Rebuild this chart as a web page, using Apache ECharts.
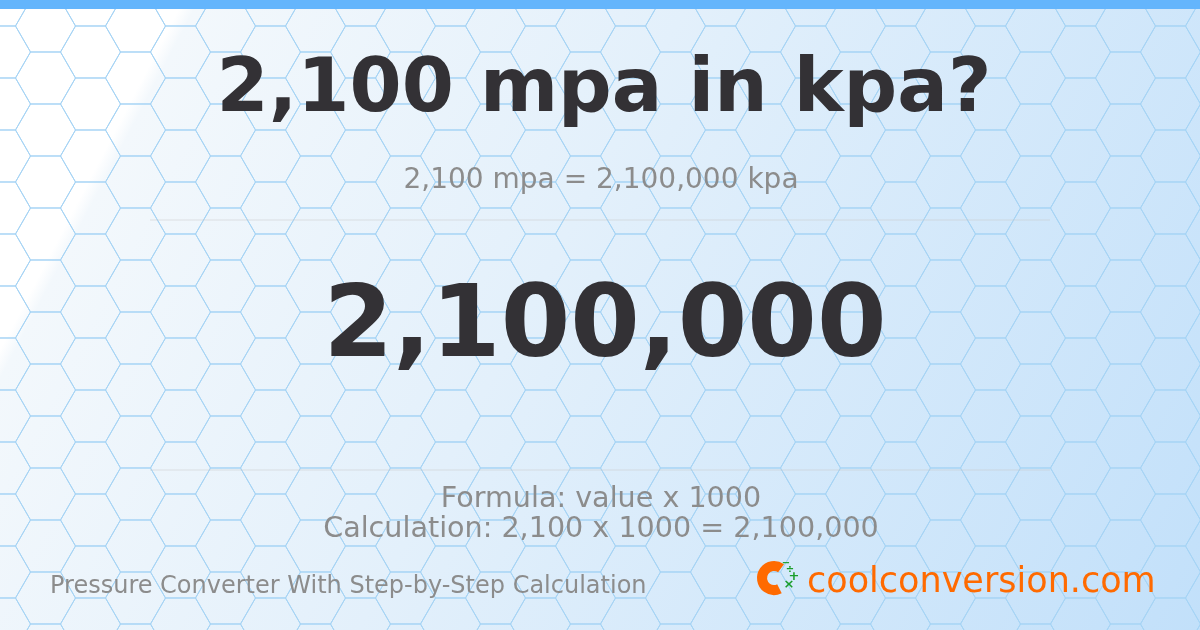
<!DOCTYPE html>
<html><head><meta charset="utf-8">
<script src="https://cdn.jsdelivr.net/npm/echarts@6/dist/echarts.min.js"></script>
<style>html,body{margin:0;padding:0}#c{width:1200px;height:630px}</style>
</head><body><div id="c"></div>
<script>
const title = "2,100 mpa in kpa?";
const subtitle = "2,100 mpa = 2,100,000 kpa";
const result = "2,100,000";
const formulaLines = ["Formula: value x 1000", "Calculation: 2,100 x 1000 = 2,100,000"];
const footer = "Pressure Converter With Step-by-Step Calculation";
const brand = "coolconversion.com";

const chart = echarts.init(document.getElementById('c'), null, {renderer:'canvas'});
const F = "DejaVu Sans";
const els = [];
els.push({type:'rect', shape:{x:0,y:0,width:1200,height:630}, style:{fill:new echarts.graphic.LinearGradient(0,0,1,1,[{offset:0,color:'#ffffff'},{offset:0.12,color:'#ffffff'},{offset:0.13,color:'#f3f8fc'},{offset:0.45,color:'#e3f0fb'},{offset:1,color:'#c2e0fa'}])}, silent:true});
const s = 30, h = s*Math.sqrt(3)/2;
for (let k=0;k<=27;k++){
  const cx = 0.5 + 45*k;
  for (let j=-1;j<=13;j++){
    const cy = (k%2 ? 26 : 0) + 52*j;
    els.push({type:'polygon', silent:true, shape:{points:[[cx-s,cy],[cx-s/2,cy-h],[cx+s/2,cy-h],[cx+s,cy],[cx+s/2,cy+h],[cx-s/2,cy+h]]}, style:{fill:null, stroke:'#a6d4f5', lineWidth:1}});
  }
}
els.push({type:'rect', shape:{x:0,y:0,width:1200,height:9}, style:{fill:'#64b5fc'}});
els.push({type:'line', shape:{x1:150,y1:220,x2:1050,y2:220}, style:{stroke:'rgba(200,200,200,0.5)',lineWidth:1}});
els.push({type:'line', shape:{x1:150,y1:470,x2:1050,y2:470}, style:{stroke:'rgba(200,200,200,0.5)',lineWidth:1}});
const T = (text,x,y,size,color,weight,align)=>els.push({type:'text', x, y, style:{text, fontFamily:F, fontSize:size, fill:color, fontWeight:weight||'normal', align:align||'center', verticalAlign:'middle'}});
T(title,604,92,75,'#333135','bold');
T(subtitle,601,181,28,'#8c8c8c');
T(result,605,330,100,'#333135','bold');
T(formulaLines[0],601,500,28.6,'#8c8c8c');
T(formulaLines[1],601,530,28.6,'#8c8c8c');
T(footer,50,587,24,'#8c8c8c','normal','left');
T(brand,807,583,35,'#ff6a00','normal','left');
// logo
els.push({type:'arc', shape:{cx:774,cy:578,r:12,startAngle:-Math.PI*0.3,endAngle:Math.PI*0.35,clockwise:false}, style:{fill:null, stroke:'#ff6a00', lineWidth:10}});
T('−',786,563,10,'#1a9e2a','bold');
T('÷',790,569,10,'#1a9e2a','bold');
T('+',794,577,13,'#1a9e2a','bold');
T('×',789,585,13,'#1a9e2a','bold');
chart.setOption({animation:false, graphic:{elements:els}});
</script></body></html>
